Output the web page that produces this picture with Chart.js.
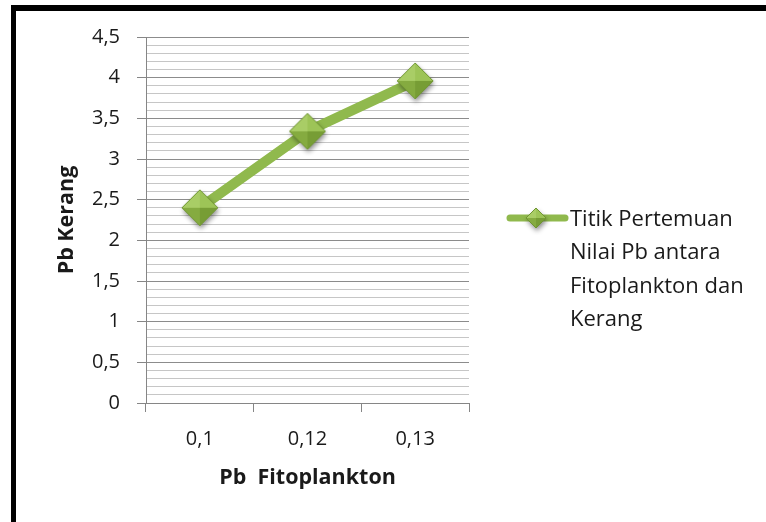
<!DOCTYPE html>
<html><head><meta charset="utf-8">
<script src="https://cdn.jsdelivr.net/npm/chart.js@4.4.1/dist/chart.umd.min.js"></script>
<style>
html,body{margin:0;padding:0;background:#fff;}
#wrap{position:relative;width:766px;height:522px;overflow:hidden;background:#fff;}
#frame{position:absolute;left:11px;top:5px;width:800px;height:600px;border-top:6px solid #000;border-left:5px solid #000;box-sizing:border-box;}
canvas{position:absolute;left:0;top:0;}
</style></head><body>
<div id="wrap"><div id="frame"></div><canvas id="c" width="766" height="522"></canvas></div>
<script>
// ---- data ----
const categories = ['0,1', '0,12', '0,13'];
const pbKerang = [2.40, 3.34, 3.96];
const seriesLabelLines = ['Titik Pertemuan', 'Nilai Pb antara', 'Fitoplankton dan', 'Kerang'];
const yTickLabels = ['0', '0,5', '1', '1,5', '2', '2,5', '3', '3,5', '4', '4,5'];
const xTitle = 'Pb  Fitoplankton';
const yTitle = 'Pb Kerang';

// ---- styles ----
const lineColor = '#90B94D';
const textColor = '#1a1a1a';
const axisColor = '#868686';
const majorGrid = '#8C8C8C';
const minorGrid = '#C6C6C6';
const FONT = "'Open Sans', 'Liberation Sans', sans-serif";

function makeDiamond(r) {
  const m = 7;
  const s = Math.ceil(2 * (r + m));
  const c = document.createElement('canvas');
  c.width = s; c.height = s;
  const g = c.getContext('2d');
  const cx = s / 2, cy = s / 2;
  const L = [cx - r, cy], T = [cx, cy - r], R = [cx + r, cy], B = [cx, cy + r], C = [cx, cy];
  g.save();
  g.shadowColor = 'rgba(0,0,0,0.45)';
  g.shadowBlur = 5; g.shadowOffsetX = 1; g.shadowOffsetY = 3;
  g.beginPath(); g.moveTo(...L); g.lineTo(...T); g.lineTo(...R); g.lineTo(...B); g.closePath();
  g.fillStyle = '#86AD42'; g.fill();
  g.restore();
  const tri = (p, q, col) => { g.beginPath(); g.moveTo(...C); g.lineTo(...p); g.lineTo(...q); g.closePath(); g.fillStyle = col; g.fill(); };
  tri(L, T, '#A9CD66');
  tri(T, R, '#9DC457');
  tri(R, B, '#779D35');
  tri(B, L, '#85AB40');
  g.beginPath(); g.moveTo(...L); g.lineTo(...T); g.lineTo(...R); g.lineTo(...B); g.closePath();
  g.strokeStyle = '#6F9532'; g.lineWidth = 1; g.stroke();
  return c;
}
const bigDiamond = makeDiamond(18);
const smallDiamond = makeDiamond(10);

const legendPlugin = {
  id: 'sideLegend',
  afterDraw(chart) {
    const a = chart.chartArea;
    const g = chart.ctx;
    const y0 = a.top + 181;
    const x0 = a.right + 38;
    g.save();
    g.strokeStyle = lineColor; g.lineWidth = 7; g.lineCap = 'round';
    g.beginPath(); g.moveTo(x0 + 3, y0); g.lineTo(x0 + 58, y0); g.stroke();
    g.drawImage(smallDiamond, x0 + 29 - smallDiamond.width / 2, y0 - smallDiamond.height / 2);
    g.fillStyle = textColor;
    g.font = '22px ' + FONT;
    g.textBaseline = 'alphabetic';
    g.textAlign = 'left';
    seriesLabelLines.forEach((t, i) => g.fillText(t, x0 + 63, y0 + 8 + i * 33.3));
    g.restore();
  }
};

const isMajor = v => Math.round(v * 10) % 5 === 0;

new Chart(document.getElementById('c'), {
  type: 'line',
  data: {
    labels: categories,
    datasets: [{
      label: seriesLabelLines.join(' '),
      data: pbKerang,
      borderColor: lineColor,
      backgroundColor: lineColor,
      borderWidth: 10,
      tension: 0,
      borderJoinStyle: 'round',
      pointStyle: bigDiamond,
      pointRadius: 18,
      pointHoverRadius: 18,
      clip: false
    }]
  },
  options: {
    responsive: false,
    animation: false,
    devicePixelRatio: 1,
    layout: { padding: { left: 50, top: 37, right: 297, bottom: 27 } },
    plugins: { legend: { display: false }, tooltip: { enabled: false } },
    scales: {
      x: {
        offset: true,
        grid: { offset: true, drawOnChartArea: false, drawTicks: true, tickLength: 9, tickColor: axisColor },
        border: { color: axisColor, width: 1 },
        ticks: { padding: 15, color: textColor, font: { family: FONT, size: 20 } },
        title: { display: true, text: xTitle, color: textColor, font: { family: FONT, size: 21.5, weight: 'bold' }, padding: { top: 4, bottom: 4 } },
        afterFit(s) { s.height = 92; }
      },
      y: {
        min: 0, max: 4.5,
        ticks: {
          stepSize: 0.1, autoSkip: false, padding: 17, color: textColor,
          font: { family: FONT, size: 20 },
          callback(v) { const k = Math.round(v * 10); return k % 5 === 0 ? yTickLabels[k / 5] : ''; }
        },
        grid: {
          color: c => (c.tick && isMajor(c.tick.value)) ? majorGrid : minorGrid,
          tickColor: c => (c.tick && isMajor(c.tick.value)) ? axisColor : 'rgba(0,0,0,0)',
          tickLength: 9, lineWidth: 1
        },
        border: { color: axisColor, width: 1 },
        title: { display: true, text: yTitle, color: textColor, font: { family: FONT, size: 21.5, weight: 'bold' }, padding: { top: 4, bottom: 4 } },
        afterFit(s) { s.width = 96; }
      }
    }
  },
  plugins: [legendPlugin]
});
</script>
</body></html>
